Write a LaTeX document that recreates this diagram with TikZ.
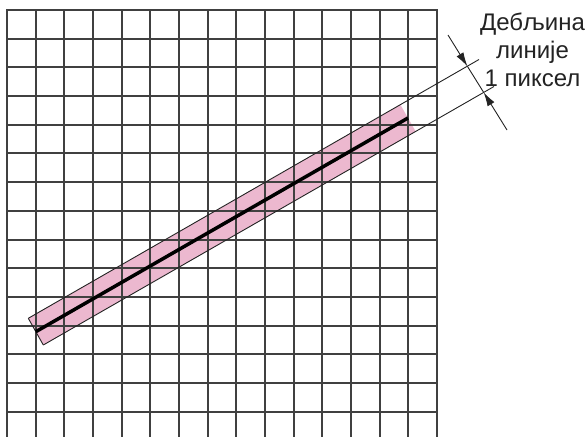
\documentclass[tikz,border=0pt]{standalone}
\usepackage{fontspec}
\setmainfont{Liberation Sans}
\usetikzlibrary{calc,arrows.meta}

\definecolor{bandpink}{RGB}{236,184,207}
\definecolor{gridgray}{RGB}{64,64,64}
\definecolor{inkgray}{RGB}{35,35,35}

\begin{document}
\begin{tikzpicture}[x=1pt, y=-1pt]
  \useasboundingbox (0,0) rectangle (587,437);

  % Band corners (one pixel wide)
  \coordinate (P1) at (28.3,318.3);
  \coordinate (P2) at (43.3,345.0);
  \coordinate (P3) at (400.4,104.7);
  \coordinate (P4) at (415.6,131.3);
  % Centre line of the band
  \coordinate (S) at (35.8,331.7);
  \coordinate (E) at (408.0,118.0);
  % Ends of the extension lines
  \coordinate (U) at (479.0,59.5);
  \coordinate (L) at (494.0,86.5);

  % Pink band
  \fill[bandpink] (P1) -- (P3) -- (P4) -- (P2) -- cycle;

  % Pixel grid
  \foreach \i in {0,...,15}
    \draw[gridgray, line width=2pt] ({round(7+28.67*\i)},10) -- ({round(7+28.67*\i)},437);
  \foreach \j in {0,...,14}
    \draw[gridgray, line width=2pt] (6,{round(10+28.7*\j)}) -- (438,{round(10+28.7*\j)});

  % Band outlines, extended to the dimension
  \draw[inkgray, line width=0.9pt] (P1) -- (U);
  \draw[inkgray, line width=0.9pt] (P2) -- (L);
  \draw[inkgray, line width=0.9pt] (P1) -- (P2);

  % Ideal line
  \draw[black, line width=3.5pt] (S) -- (E);

  % Dimension
  \coordinate (D1) at (448,35);
  \coordinate (D2) at (507,130);
  \coordinate (X1) at (467.4,66.3);
  \coordinate (X2) at (483.6,92.3);
  \draw[inkgray, line width=0.9pt, -{Latex[length=14pt,width=8pt]}] (D1) -- (X1);
  \draw[inkgray, line width=0.9pt] (X1) -- (X2);
  \draw[inkgray, line width=0.9pt, -{Latex[length=14pt,width=8pt]}] (D2) -- (X2);

  % Label
  \node[align=center, inner sep=0pt, anchor=north, text=inkgray,
        font=\fontsize{24}{28}\selectfont] (lbl) at (532.5,12.5)
    {Дебљина\\линије\\1 пиксел};
\end{tikzpicture}
\end{document}
